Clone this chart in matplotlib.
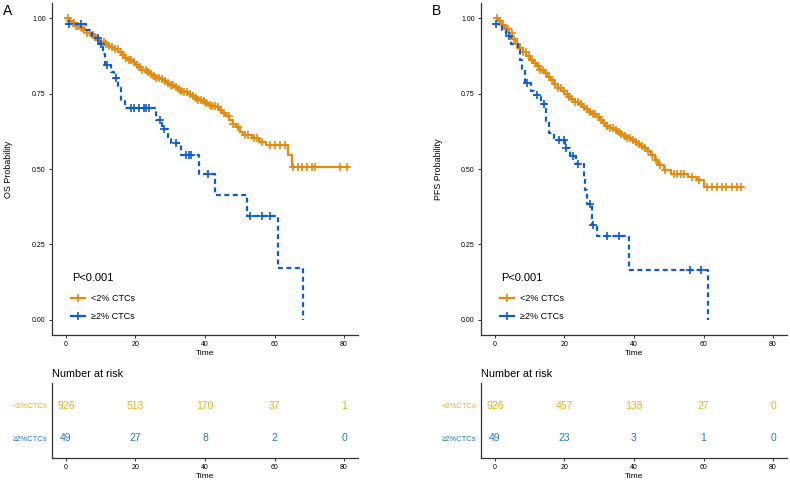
import numpy as np
import matplotlib
matplotlib.use('Agg')
import matplotlib.pyplot as plt
from matplotlib.lines import Line2D

plt.rcParams['font.family'] = ['Liberation Sans', 'DejaVu Sans']

# ---- data ----
groups = ['<2% CTCs', '≥2% CTCs']
row_labels = ['<2%CTCs', '≥2%CTCs']
risk_times = [0, 20, 40, 60, 80]

# panel A, OS
os_low_t = [0, 1, 2, 3, 4, 5, 6, 7, 8, 9, 10, 11, 12, 13, 14, 15, 16, 17, 18, 19,
            20, 21, 22, 23, 24, 25, 26, 27, 28, 29, 30, 31, 32, 33, 34, 35, 36, 37,
            38, 39, 40, 41, 42, 43, 44, 45, 46, 47, 48, 49, 50, 51,
            53.5, 55.5, 57.5, 64.0, 64.9, 81.0]
os_low_s = [1.0, .992, .983, .975, .967, .959, .951, .943, .936, .929, .921, .915,
            .909, .903, .896, .888, .879, .869, .861, .853, .845, .837, .829, .822,
            .815, .809, .803, .797, .79, .784, .778, .772, .766, .76, .754, .748,
            .742, .736, .730, .724, .718, .713, .709, .705, .697, .686, .674, .662,
            .65, .638, .624, .611, .604, .59, .578, .545, .507, .507]
os_low_cens = [0.5, 1.3, 2.2, 3.0, 3.6, 4.5, 5.2, 6.1, 6.8, 7.7, 8.4, 9.3, 10.1, 10.9,
               11.6, 12.5, 13.3, 14.0, 14.9, 15.7, 16.4, 17.3, 18.1, 18.8, 19.7, 20.5,
               21.3, 22.0, 22.9, 23.6, 24.5, 25.3, 26.0, 26.9, 27.7, 28.4, 29.3, 30.1,
               30.8, 31.7, 32.5, 33.2, 34.1, 34.9, 35.6, 36.5, 37.3, 38.0, 38.9, 39.7,
               40.4, 41.3, 42.1, 42.8, 43.7, 44.6, 45.5, 46.8, 48.0, 49.5, 51.5, 52.5,
               54.0, 55.0, 56.5, 58.7, 60.1, 61.6, 63.0, 65.4, 66.8, 67.8, 69.2, 70.7,
               71.6, 78.8, 80.7]
os_high_t = [0, 5.7, 7.5, 9.5, 10.8, 11.3, 13.0, 13.8, 15.0, 15.8, 16.9, 26.0, 27.7,
             29.5, 30.1, 33.0, 38.2, 43.0, 52.0, 61.1, 68.1]
os_high_s = [0.98, 0.96, 0.935, 0.914, 0.88, 0.846, 0.82, 0.80, 0.77, 0.725, 0.703,
             0.664, 0.631, 0.60, 0.585, 0.545, 0.483, 0.414, 0.345, 0.173, 0.0]
os_high_cens = [1.0, 4.3, 9.1, 10.0, 11.9, 14.3, 18.6, 19.6, 21.0, 22.5, 22.9, 23.9,
                27.2, 28.2, 31.8, 34.4, 35.3, 36.0, 41.0, 53.0, 56.3, 58.7]
os_risk_low = [926, 513, 170, 37, 1]
os_risk_high = [49, 27, 8, 2, 0]

# panel B, PFS
pfs_low_t = list(range(0, 48)) + [48.5, 50.5, 55.5, 58, 60, 71]
pfs_low_s = [1.0, .99, .978, .964, .949, .932, .915, .9, .887, .874, .862, .851, .84,
             .829, .817, .806, .794, .782, .77, .759, .749, .74, .731, .723, .715,
             .707, .699, .69, .681, .671, .662, .653, .644, .636, .629, .622, .616,
             .61, .604, .597, .59, .583, .576, .569, .56, .547, .53, .513,
             .497, .485, .474, .463, .441, .441]
pfs_low_cens = [0.6, 1.4, 2.3, 3.1, 3.9, 4.8, 5.6, 6.4, 7.3, 8.1, 8.9, 9.8, 10.6, 11.4,
                12.3, 13.1, 13.9, 14.8, 15.6, 16.4, 17.3, 18.1, 18.9, 19.8, 20.6, 21.4,
                22.3, 23.1, 23.9, 24.8, 25.6, 26.4, 27.3, 28.1, 28.9, 29.8, 30.6, 31.4,
                32.3, 33.1, 33.9, 34.8, 35.6, 36.4, 37.3, 38.1, 38.9, 39.8, 40.6, 41.4,
                42.3, 43.1, 44.0, 45.2, 46.3, 47.5, 49.0, 51.4, 52.4, 53.4, 54.4, 56.6,
                58.8, 60.9, 62.3, 63.8, 65.2, 66.6, 68.1, 69.5, 70.9]
pfs_high_t = [0, 2.0, 3.3, 4.6, 6.5, 7.2, 7.8, 8.6, 10.5, 11.2, 13.2, 14.8, 15.5, 17.0,
              20.2, 21.5, 23.2, 25.6, 26.0, 26.5, 27.8, 29.4, 38.5, 61.2]
pfs_high_s = [0.98, 0.96, 0.94, 0.915, 0.895, 0.86, 0.83, 0.784, 0.76, 0.744, 0.716,
              0.66, 0.62, 0.595, 0.571, 0.542, 0.515, 0.47, 0.43, 0.384, 0.315, 0.278,
              0.166, 0.0]
pfs_high_cens = [0.3, 4.0, 9.3, 12.0, 14.1, 18.4, 19.9, 20.4, 22.6, 23.9, 27.3, 28.3,
                 32.1, 35.6, 56.2, 59.3]
pfs_risk_low = [926, 457, 138, 27, 0]
pfs_risk_high = [49, 23, 3, 1, 0]

# colours
c_low = '#E8890C'
c_high = '#0A5BD8'
c_low_tab = '#E9AE1B'
c_high_tab = '#1F78D6'
axis_col = '#333333'


def km(ax, t, s, cens, color, ls, ms):
    t = np.asarray(t)
    s = np.asarray(s)
    ax.step(t, s, where='post', color=color, lw=1.6, ls=ls)
    idx = np.searchsorted(t, cens, side='right') - 1
    ax.plot(cens, s[idx], ls='none', marker='+', ms=ms, mew=1.2, color=color)


def style_axes(ax):
    for sp in ['top', 'right']:
        ax.spines[sp].set_visible(False)
    for sp in ['left', 'bottom']:
        ax.spines[sp].set_color(axis_col)
        ax.spines[sp].set_linewidth(0.9)
    ax.tick_params(colors=axis_col, labelcolor='black', labelsize=5, length=2.5,
                   width=0.7, pad=2)
    ax.set_xlim(-4, 84)
    ax.set_xticks(risk_times)


dash = (0, (2.2, 1.6))

W, H = 790, 483
fig = plt.figure(figsize=(7.9, 4.83), dpi=100)

panels = [
    ('A', 'OS Probability', 52, -0.127, os_low_t, os_low_s, os_low_cens, os_high_t,
     os_high_s, os_high_cens, os_risk_low, os_risk_high),
    ('B', 'PFS Probability', 481, -0.125, pfs_low_t, pfs_low_s, pfs_low_cens, pfs_high_t,
     pfs_high_s, pfs_high_cens, pfs_risk_low, pfs_risk_high),
]

for (tag, ylab, left, ylx, lt, ls_, lc, ht, hs, hc, rl, rh) in panels:
    ax = fig.add_axes([left / W, 1 - 335 / H, 306 / W, 332 / H])
    km(ax, lt, ls_, lc, c_low, '-', 6)
    km(ax, ht, hs, hc, c_high, dash, 5.5)
    style_axes(ax)
    ax.set_ylim(-0.05, 1.05)
    ax.set_yticks([0, 0.25, 0.5, 0.75, 1.0])
    ax.set_yticklabels(['0.00', '0.25', '0.50', '0.75', '1.00'])
    ax.set_xlabel('Time', fontsize=6, labelpad=1.5)
    ax.set_ylabel(ylab, fontsize=6.4)
    ax.yaxis.set_label_coords(ylx, 0.5)
    ax.text(0.066, 0.172, 'P<0.001', transform=ax.transAxes, fontsize=8,
            ha='left', va='center')
    handles = [Line2D([], [], color=c_low, lw=1.6, marker='+', ms=5.5, mew=1.2),
               Line2D([], [], color=c_high, lw=1.6, marker='+', ms=5.5, mew=1.2)]
    ax.legend(handles, groups, loc='upper left', bbox_to_anchor=(0.062, 0.122),
              frameon=False, fontsize=6.5, handlelength=1.6, handletextpad=0.6,
              borderpad=0, borderaxespad=0, labelspacing=0.97)
    fig.text((left - 49) / W, 1 - 11 / H, tag, fontsize=10, ha='left', va='center')

    # risk table
    tb = fig.add_axes([left / W, 1 - 458 / H, 306 / W, 75 / H])
    style_axes(tb)
    tb.set_ylim(0.4, 2.7)
    tb.set_yticks([2, 1])
    tb.set_yticklabels(row_labels, fontsize=5.5)
    tb.tick_params(axis='y', length=0, pad=3)
    for lab, col in zip(tb.get_yticklabels(), [c_low_tab, c_high_tab]):
        lab.set_color(col)
    for x, v in zip(risk_times, rl):
        tb.text(x, 2, str(v), color=c_low_tab, fontsize=7.5, ha='center', va='center')
    for x, v in zip(risk_times, rh):
        tb.text(x, 1, str(v), color=c_high_tab, fontsize=7.5, ha='center', va='center')
    tb.set_xlabel('Time', fontsize=6, labelpad=1)
    tb.set_title('Number at risk', loc='left', fontsize=7.8, pad=4)

fig.savefig('out.png', dpi=100)
